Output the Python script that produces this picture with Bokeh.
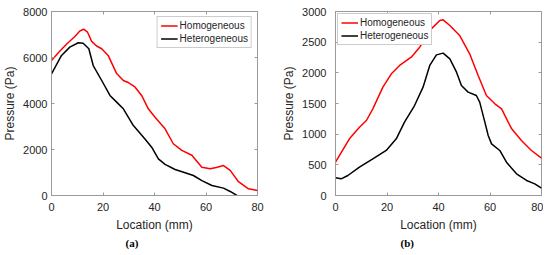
from bokeh.plotting import figure
from bokeh.models import LinearAxis, Legend, LegendItem, Title, Range1d, FixedTicker
from bokeh.layouts import row
from bokeh.embed import file_html
from bokeh.resources import INLINE

# ---- Panel (a) data ----
a_hom_x = [0, 3, 6, 9, 11, 12.5, 14, 15.6, 17.5, 19.5, 22, 25.3, 27.9, 30, 32.4, 35, 37.6, 40.2, 44.1, 47.3, 50.6, 54.5, 58.4, 61.6, 64, 66.8, 69.4, 72.6, 76.5, 80]
a_hom_y = [5870, 6250, 6600, 6900, 7150, 7230, 7100, 6700, 6500, 6380, 6090, 5300, 5000, 4900, 4720, 4350, 3770, 3400, 2900, 2250, 1960, 1750, 1230, 1160, 1220, 1300, 1090, 600, 290, 217]
a_het_x = [0, 3.9, 7.1, 10.4, 12.3, 14.5, 16.2, 19.5, 22.7, 25.3, 27.9, 31.8, 36.3, 38.9, 41.5, 44.1, 48, 51.9, 55.1, 58.4, 62.3, 66.8, 69.4, 72]
a_het_y = [5290, 6090, 6450, 6640, 6620, 6380, 5650, 5000, 4350, 4060, 3770, 3040, 2460, 2100, 1590, 1350, 1130, 990, 870, 650, 435, 320, 175, 0]

# ---- Panel (b) data ----
b_hom_x = [0, 5.4, 9.3, 12, 14.5, 18.4, 21.7, 24.9, 29.4, 32.7, 37.2, 40.5, 41.8, 44.4, 48.2, 52.1, 55.4, 58.6, 61.9, 64.5, 68.4, 72.2, 76.1, 80]
b_hom_y = [543, 924, 1114, 1223, 1413, 1766, 1984, 2120, 2255, 2418, 2717, 2853, 2864, 2772, 2609, 2310, 1957, 1630, 1495, 1413, 1087, 897, 734, 609]
b_het_x = [0, 2.2, 4.8, 9.3, 14.5, 19.7, 23.6, 26.8, 30.7, 34, 36.6, 39.2, 41.8, 44.4, 47, 48.9, 51.5, 54.7, 56, 58, 59.3, 60.6, 63.8, 66.4, 70.3, 74.2, 77.4, 80]
b_het_y = [288, 272, 326, 462, 598, 734, 924, 1196, 1467, 1766, 2120, 2293, 2321, 2228, 2011, 1793, 1685, 1630, 1522, 1196, 978, 842, 734, 543, 353, 245, 190, 120]

x_ticks = [0, 20, 40, 60, 80]
a_y_ticks = [0, 2000, 4000, 6000, 8000]
b_y_ticks = [0, 500, 1000, 1500, 2000, 2500, 3000]

series_names = ["Homogeneous", "Heterogeneous"]
series_colors = ["#ff0000", "#000000"]

FONT = "Liberation Sans"
TXT = "#262626"
FRAME = "#9a9a9a"


def make_panel(hx, hy, kx, ky, yticks, ymax, caption, left_border, right_border,
               label_standoff, legend_loc, cap_offset):
    p = figure(output_backend="svg", toolbar_location=None,
               x_range=Range1d(0, 80), y_range=Range1d(0, ymax),
               min_border_left=left_border, min_border_right=right_border,
               min_border_top=11, min_border_bottom=0,
               frame_width=206, frame_height=184)
    p.xgrid.visible = False
    p.ygrid.visible = False
    p.outline_line_color = FRAME
    p.outline_line_width = 1
    p.background_fill_color = "white"
    p.border_fill_color = "white"

    r1 = p.line(hx, hy, line_color=series_colors[0], line_width=1.5)
    r2 = p.line(kx, ky, line_color=series_colors[1], line_width=1.5)

    for ax in p.xaxis:
        ax.ticker = FixedTicker(ticks=x_ticks)
        ax.axis_label = "Location (mm)"
        ax.major_label_standoff = 7
        ax.axis_label_standoff = 4
    for ax in p.yaxis:
        ax.ticker = FixedTicker(ticks=yticks)
        ax.axis_label = "Pressure (Pa)"
        ax.major_label_standoff = label_standoff
        ax.axis_label_standoff = 3
    for ax in list(p.xaxis) + list(p.yaxis):
        ax.axis_line_color = FRAME
        ax.major_tick_line_color = FRAME
        ax.major_tick_in = 3
        ax.major_tick_out = 0
        ax.minor_tick_line_color = None
        ax.major_label_text_font = FONT
        ax.major_label_text_font_size = "11px"
        ax.major_label_text_color = TXT
        ax.axis_label_text_font = FONT
        ax.axis_label_text_font_size = "12px"
        ax.axis_label_text_font_style = "normal"
        ax.axis_label_text_color = TXT

    # mirrored ticks on top and right (no labels drawn)
    top = LinearAxis(ticker=FixedTicker(ticks=x_ticks), major_label_text_font_size="0px",
                     major_label_text_color=None, major_label_text_alpha=0,
                     major_tick_in=3, major_tick_out=0, major_label_standoff=0,
                     axis_line_color=None, major_tick_line_color=FRAME,
                     minor_tick_line_color=None)
    right = LinearAxis(ticker=FixedTicker(ticks=yticks), major_label_text_font_size="0px",
                       major_label_text_color=None, major_label_text_alpha=0,
                       major_tick_in=3, major_tick_out=0, major_label_standoff=0,
                       axis_line_color=None, major_tick_line_color=FRAME,
                       minor_tick_line_color=None)
    p.add_layout(top, "above")
    p.add_layout(right, "right")

    legend = Legend(items=[LegendItem(label=series_names[0], renderers=[r1]),
                           LegendItem(label=series_names[1], renderers=[r2])],
                    location=legend_loc)
    legend.label_text_font = FONT
    legend.label_text_font_size = "10px"
    legend.label_text_color = TXT
    legend.label_height = 11
    legend.glyph_height = 11
    legend.glyph_width = 17
    legend.label_standoff = 2
    legend.spacing = 2
    legend.padding = 3
    legend.margin = 5
    legend.border_line_color = FRAME
    legend.border_line_width = 1
    legend.background_fill_alpha = 1.0
    p.add_layout(legend)

    cap = Title(text=caption, align="left", offset=cap_offset,
                text_font="Liberation Serif", text_font_size="11px",
                text_font_style="bold", text_color="#000000", standoff=1)
    p.add_layout(cap, "below")
    return p


pa = make_panel(a_hom_x, a_hom_y, a_het_x, a_het_y, a_y_ticks, 8000, "(a)",
                42, 19, 4, "top_right", 74)
pb = make_panel(b_hom_x, b_hom_y, b_het_x, b_het_y, b_y_ticks, 3000, "(b)",
                59, 2, 9, "top_left", 65)
pb.legend[0].margin = 2

layout = row(pa, pb, spacing=0)
open("out.html", "w").write(file_html(layout, INLINE))
